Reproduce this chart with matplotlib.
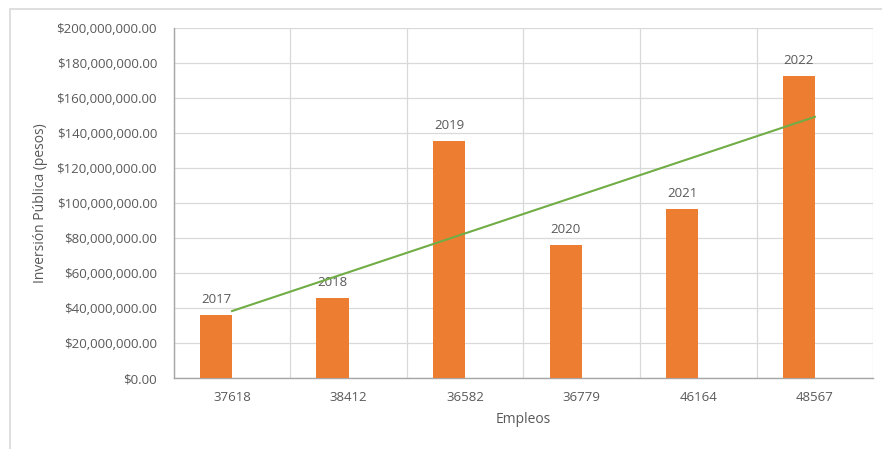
import matplotlib
matplotlib.use("Agg")
import matplotlib.pyplot as plt
import numpy as np
from matplotlib.ticker import FuncFormatter, MultipleLocator
from matplotlib.patches import Rectangle

empleos = ["37618", "38412", "36582", "36779", "46164", "48567"]
years = ["2017", "2018", "2019", "2020", "2021", "2022"]
inversion = [36.0e6, 45.7e6, 135.4e6, 76.0e6, 96.6e6, 172.6e6]

plt.rcParams['font.family'] = ['Open Sans', 'DejaVu Sans']
txt = '#595959'

fig = plt.figure(figsize=(8.82, 4.49), dpi=100)
ax = fig.add_axes([0.197, 0.158, 0.793, 0.78])

# outer chart frame
fig.patches.append(Rectangle((0.0115, -0.02), 1.2, 1.0, transform=fig.transFigure,
                             fill=False, edgecolor='#D9D9D9', linewidth=1.2))

x = np.arange(len(empleos))
bw = 0.276
ax.bar(x - bw / 2, inversion, width=bw, color='#ED7D31', zorder=3)
for xi, v, yr in zip(x, inversion, years):
    ax.text(xi - bw / 2, v + 5e6, yr, ha='center', va='bottom', fontsize=9.5, color=txt, zorder=4)

# linear trendline
coef = np.polyfit(x, inversion, 1)
ax.plot(x, np.polyval(coef, x), color='#70AD47', linewidth=1.5, zorder=4)

ax.set_xlim(-0.5, len(empleos) - 0.5)
ax.set_ylim(0, 200e6)
ax.yaxis.set_major_locator(MultipleLocator(20e6))
ax.yaxis.set_major_formatter(FuncFormatter(lambda v, p: "${:,.2f}".format(v)))
ax.set_xticks(x)
ax.set_xticklabels(empleos)
ax.set_xticks(np.arange(-0.5, len(empleos)), minor=True)
ax.grid(True, which='major', axis='y', color='#D9D9D9', linewidth=0.9, zorder=0)
ax.grid(True, which='minor', axis='x', color='#D9D9D9', linewidth=0.9, zorder=0)
ax.tick_params(axis='both', which='both', length=0, labelsize=9.5, labelcolor=txt)
ax.tick_params(axis='y', pad=12)
ax.tick_params(axis='x', pad=9)
for s in ['top', 'right']:
    ax.spines[s].set_visible(False)
for s in ['left', 'bottom']:
    ax.spines[s].set_color('#A6A6A6')
    ax.spines[s].set_linewidth(1.0)

ax.set_xlabel("Empleos", fontsize=10, color=txt, labelpad=6)
ax.set_ylabel("Inversión Pública (pesos)", fontsize=10, color=txt, labelpad=6)

fig.savefig("out.png", dpi=100)
